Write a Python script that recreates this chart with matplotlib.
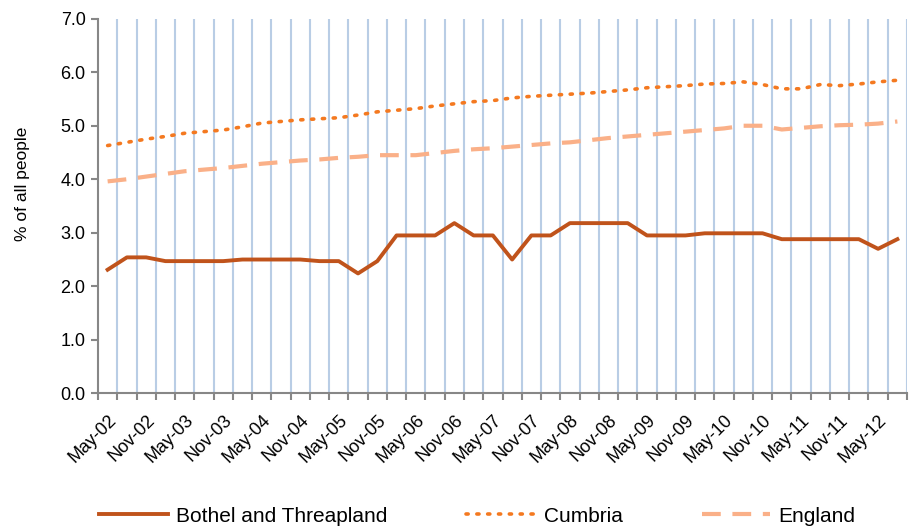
import matplotlib.pyplot as plt
import numpy as np

# quarterly points, May-02 .. Aug-12
quarters = ['May-02', 'Aug-02', 'Nov-02', 'Feb-03', 'May-03', 'Aug-03', 'Nov-03', 'Feb-04',
            'May-04', 'Aug-04', 'Nov-04', 'Feb-05', 'May-05', 'Aug-05', 'Nov-05', 'Feb-06',
            'May-06', 'Aug-06', 'Nov-06', 'Feb-07', 'May-07', 'Aug-07', 'Nov-07', 'Feb-08',
            'May-08', 'Aug-08', 'Nov-08', 'Feb-09', 'May-09', 'Aug-09', 'Nov-09', 'Feb-10',
            'May-10', 'Aug-10', 'Nov-10', 'Feb-11', 'May-11', 'Aug-11', 'Nov-11', 'Feb-12',
            'May-12', 'Aug-12']

bothel = [2.31, 2.54, 2.54, 2.47, 2.47, 2.47, 2.47, 2.50, 2.50, 2.50, 2.50, 2.47, 2.47, 2.24,
          2.47, 2.95, 2.95, 2.95, 3.18, 2.95, 2.95, 2.50, 2.95, 2.95, 3.18, 3.18, 3.18, 3.18,
          2.95, 2.95, 2.95, 2.99, 2.99, 2.99, 2.99, 2.88, 2.88, 2.88, 2.88, 2.88, 2.70, 2.88]

cumbria = [4.63, 4.69, 4.75, 4.80, 4.86, 4.89, 4.92, 4.98, 5.05, 5.08, 5.11, 5.13, 5.15, 5.20,
           5.26, 5.29, 5.32, 5.37, 5.41, 5.45, 5.47, 5.52, 5.55, 5.57, 5.59, 5.61, 5.64, 5.67,
           5.71, 5.73, 5.75, 5.78, 5.79, 5.82, 5.77, 5.69, 5.69, 5.77, 5.75, 5.78, 5.82, 5.85]

england = [3.96, 4.00, 4.05, 4.10, 4.15, 4.18, 4.21, 4.25, 4.29, 4.32, 4.35, 4.37, 4.40, 4.42,
           4.45, 4.45, 4.45, 4.49, 4.53, 4.56, 4.58, 4.61, 4.64, 4.67, 4.69, 4.73, 4.77, 4.80,
           4.83, 4.86, 4.89, 4.92, 4.95, 5.00, 5.00, 4.93, 4.96, 4.99, 5.01, 5.02, 5.04, 5.08]

plt.rcParams['font.family'] = ['Liberation Sans', 'DejaVu Sans']

fig = plt.figure(figsize=(9.1, 5.26), dpi=100)
ax = fig.add_axes([0.1077, 0.2523, 0.8890, 0.7121])

x = np.arange(len(quarters))
n = len(quarters)

# category boundary gridlines
for b in np.arange(0.5, n, 1.0):
    ax.axvline(b, color='#b9cde5', lw=1.5, zorder=1)

ax.plot(x, bothel, color='#c0531b', lw=2.8, label='Bothel and Threapland', zorder=3)
ax.plot(x, cumbria, color='#f47920', lw=2.6, linestyle=(0, (0.6, 2.4)),
        dash_capstyle='round', label='Cumbria', zorder=3)
ax.plot(x, england, color='#fab088', lw=3.0, linestyle=(0, (4.5, 2.8)),
        label='England', zorder=3)

ax.set_xlim(-0.5, n - 0.5)
ax.set_ylim(0, 7)
ax.set_yticks(np.arange(0, 7.01, 1.0))
ax.set_yticklabels(['%.1f' % v for v in np.arange(0, 7.01, 1.0)], fontsize=13)

ax.set_xticks(x[::2])
ax.set_xticklabels(quarters[::2], rotation=45, ha='right', va='top',
                   rotation_mode='anchor', fontsize=13)
ax.set_xticks(np.arange(-0.5, n, 1.0), minor=True)
ax.tick_params(axis='x', which='major', length=0, pad=13)
ax.tick_params(axis='x', which='minor', length=5, width=1.5, color='#878787')
ax.tick_params(axis='y', length=5, width=1.5, color='#878787', pad=4)

for s in ['top', 'right']:
    ax.spines[s].set_visible(False)
for s in ['left', 'bottom']:
    ax.spines[s].set_color('#878787')
    ax.spines[s].set_linewidth(1.5)

ax.set_ylabel('% of all people', fontsize=12.5)
ax.yaxis.set_label_coords(-0.084, 0.56)

fig.legend(loc='lower left', bbox_to_anchor=(0.088, -0.035), ncol=3, frameon=False,
           fontsize=15, handlelength=3.3, handletextpad=0.4, columnspacing=3.8)

fig.savefig('out.png', dpi=100)
